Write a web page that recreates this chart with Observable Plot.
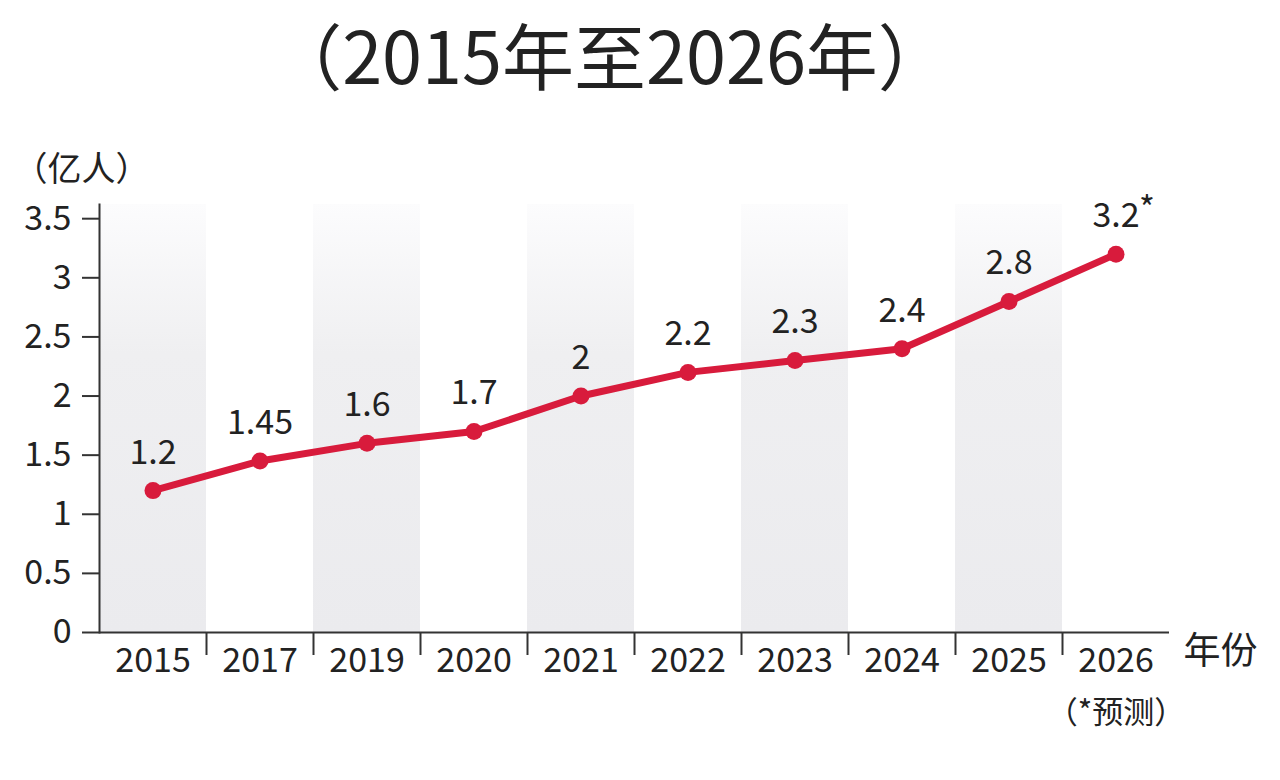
<!DOCTYPE html>
<html>
<head>
<meta charset="utf-8">
<script src="https://cdn.jsdelivr.net/npm/d3@7"></script>
<script src="https://cdn.jsdelivr.net/npm/@observablehq/plot@0.6"></script>
<style>
  html, body { margin: 0; padding: 0; background: #fff; }
  body { width: 1280px; height: 780px; overflow: hidden; }
  #title {
    box-sizing: border-box;
    width: 1280px; height: 110px; line-height: 106px;
    padding-right: 60px; white-space: nowrap;
    text-align: center; color: #222;
    font-family: "Noto Sans CJK SC", sans-serif;
    font-size: 72px; font-weight: 400;
  }
  #chart svg { display: block; }
</style>
</head>
<body>
<div id="title">（2015年至2026年）</div>
<div id="chart"></div>
<script>
// ---- data ----
const years = ["2015", "2017", "2019", "2020", "2021", "2022", "2023", "2024", "2025", "2026"];
const values = [1.2, 1.45, 1.6, 1.7, 2, 2.2, 2.3, 2.4, 2.8, 3.2];
const forecast = [false, false, false, false, false, false, false, false, false, true];
const yTicks = [0, 0.5, 1, 1.5, 2, 2.5, 3, 3.5];
const shadedYears = ["2015", "2019", "2021", "2023", "2025"];
const yUnitLabel = "（亿人）";
const xUnitLabel = "年份";
const forecastNote = "（*预测）";

const data = years.map((y, i) => ({year: y, value: values[i], forecast: forecast[i]}));

const FONT = "'Noto Sans CJK SC', sans-serif";
const RED = "#d81b3c";
const W = 1280, H = 670;
const mL = 99, mR = 111;
const bw = (W - mL - mR) / years.length;

const defs = () => {
  const d = d3.create("svg:defs");
  const g = d.append("linearGradient").attr("id", "bandgrad")
    .attr("x1", 0).attr("y1", 0).attr("x2", 0).attr("y2", 1);
  g.append("stop").attr("offset", "0%").attr("stop-color", "#fcfcfd");
  g.append("stop").attr("offset", "35%").attr("stop-color", "#efeff1");
  g.append("stop").attr("offset", "100%").attr("stop-color", "#ebebee");
  return d.node();
};

const chart = Plot.plot({
  width: W,
  height: H,
  marginLeft: mL,
  marginRight: mR,
  marginTop: 94,
  marginBottom: 148,
  style: {fontFamily: FONT, fontSize: "34px", color: "#222", background: "#fff", overflow: "visible"},
  x: {domain: years, padding: 0, label: null},
  y: {domain: [0, 3.62], label: null},
  marks: [
    defs,
    Plot.barY(shadedYears, {x: d => d, y1: 0, y2: 3.62, fill: "url(#bandgrad)", inset: 0}),
    Plot.frame({anchor: "left", stroke: "#333", strokeWidth: 2}),
    Plot.ruleY([0], {stroke: "#333", strokeWidth: 2}),
    Plot.axisY({ticks: yTicks, tickSize: 17, tickPadding: 11, tickFormat: d => String(d),
      fontSize: 34, stroke: "#333", strokeWidth: 2, label: null}),
    Plot.axisX({tickSize: 0, tickPadding: 15, fontSize: 34, label: null}),
    Plot.axisX({ticks: years.slice(1), tickSize: 23, tickFormat: () => "", dx: -bw / 2,
      stroke: "#333", strokeWidth: 2, label: null}),
    Plot.line(data, {x: "year", y: "value", stroke: RED, strokeWidth: 7, strokeLinejoin: "round"}),
    Plot.dot(data, {x: "year", y: "value", r: 8.5, fill: RED, stroke: "none"}),
    Plot.text(data, {x: "year", y: "value", text: d => String(d.value), dy: -38, fontSize: 34, fill: "#222"}),
    Plot.text(data.filter(d => d.forecast), {x: "year", y: "value", text: () => "*", textAnchor: "start",
      dx: 23, dy: -44, fontSize: 34, fill: "#222"}),
    Plot.text(data.filter(d => d.forecast), {x: "year", text: () => forecastNote, frameAnchor: "bottom",
      dy: 90, fontSize: 31, fill: "#222"}),
    Plot.text([xUnitLabel], {text: d => d, frameAnchor: "bottom-right", textAnchor: "start",
      dx: 14, dy: 31, fontSize: 37, fill: "#222"}),
    Plot.text([yUnitLabel], {text: d => d, frameAnchor: "top-left", textAnchor: "start",
      dx: -86, dy: -48, fontSize: 34, fill: "#222"})
  ]
});
document.getElementById("chart").appendChild(chart);
</script>
</body>
</html>
